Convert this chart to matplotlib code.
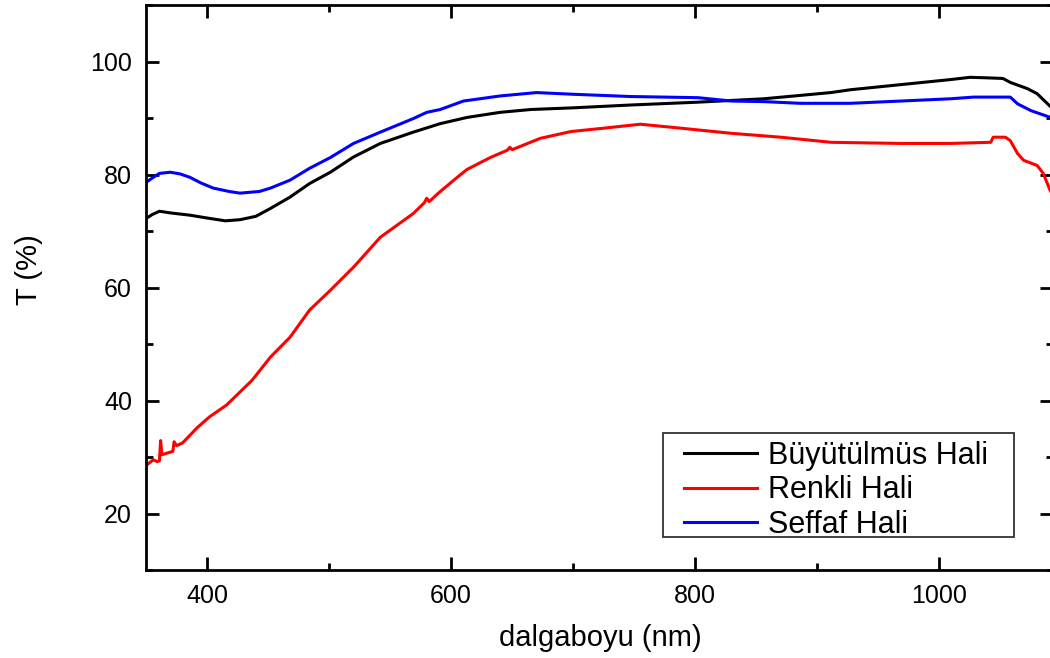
import matplotlib
matplotlib.use("Agg")
import matplotlib.pyplot as plt
from matplotlib.patches import Rectangle
from matplotlib.ticker import MultipleLocator

plt.rcParams['font.family'] = ['Liberation Sans', 'DejaVu Sans']

# Büyütülmüs Hali (black)
wl_black = [350, 355, 361, 370, 386, 400, 415, 427, 440, 452, 468, 484, 501, 520,
            542, 569, 591, 613, 640, 665, 700, 747, 802, 856, 911, 927, 968, 1009,
            1025, 1040, 1052, 1058, 1072, 1080, 1091, 1100]
t_black = [72.2, 72.9, 73.5, 73.2, 72.8, 72.3, 71.8, 72.0, 72.6, 74.0, 76.0, 78.4, 80.4, 83.1,
           85.5, 87.5, 89.0, 90.1, 91.0, 91.5, 91.8, 92.3, 92.8, 93.4, 94.5, 95.0, 95.9, 96.8,
           97.2, 97.1, 97.0, 96.3, 95.2, 94.3, 92.0, 91.2]

# Renkli Hali (red)
wl_red = [350, 356, 359, 361, 362, 363, 372, 373, 375, 380, 392, 402, 416, 427, 437, 452,
          468, 484, 501, 520, 542, 569, 578, 580, 582, 590, 605, 613, 632, 646, 648, 650,
          673, 698, 725, 755, 788, 829, 870, 911, 968, 1009, 1042, 1044, 1054, 1058, 1064,
          1069, 1080, 1085, 1091, 1100]
t_red = [28.5, 29.5, 29.2, 29.3, 32.9, 30.4, 31.0, 32.7, 32.0, 32.5, 35.2, 37.1, 39.2, 41.5, 43.6, 47.7,
         51.2, 56.0, 59.5, 63.6, 68.9, 73.1, 75.0, 75.8, 75.2, 76.8, 79.5, 80.9, 83.0, 84.3, 84.8, 84.4,
         86.4, 87.6, 88.2, 88.9, 88.2, 87.3, 86.6, 85.7, 85.5, 85.5, 85.7, 86.6, 86.6, 86.0, 83.7,
         82.5, 81.6, 80.2, 77.0, 75.5]

# Seffaf Hali (blue)
wl_blue = [350, 356, 361, 370, 378, 386, 395, 405, 418, 427, 443, 452, 468, 484, 501, 520,
           542, 569, 580, 591, 610, 640, 670, 700, 747, 802, 830, 856, 886, 927, 968, 1009,
           1028, 1058, 1064, 1075, 1091, 1100]
t_blue = [78.6, 79.5, 80.2, 80.4, 80.1, 79.5, 78.5, 77.6, 77.0, 76.7, 77.0, 77.6, 79.0, 81.1, 83.0, 85.5,
          87.5, 89.9, 91.0, 91.5, 93.0, 93.9, 94.5, 94.2, 93.8, 93.6, 93.0, 92.9, 92.6, 92.6, 93.0, 93.4,
          93.7, 93.7, 92.5, 91.3, 90.1, 89.5]

W, H = 1050, 658
AX_L, AX_R, AX_T, AX_B = 146, 1053, 5, 570   # axes box in pixels


def ax_x(px):
    return (px - AX_L) / (AX_R - AX_L)


def ax_y(py):
    return (AX_B - py) / (AX_B - AX_T)


fig = plt.figure(figsize=(W / 100, H / 100), dpi=100)
ax = fig.add_axes([AX_L / W, (H - AX_B) / H, (AX_R - AX_L) / W, (AX_B - AX_T) / H])

ax.plot(wl_black, t_black, color='black', lw=2.2, label='Büyütülmüs Hali')
ax.plot(wl_red, t_red, color='red', lw=2.2, label='Renkli Hali')
ax.plot(wl_blue, t_blue, color='blue', lw=2.2, label='Seffaf Hali')

ax.set_xlim(350, 1093)
ax.set_ylim(10, 110)
ax.xaxis.set_major_locator(MultipleLocator(200))
ax.xaxis.set_minor_locator(MultipleLocator(100))
ax.yaxis.set_major_locator(MultipleLocator(20))
ax.yaxis.set_minor_locator(MultipleLocator(10))
ax.set_yticks([20, 40, 60, 80, 100])

ax.tick_params(which='both', direction='in', top=True, right=True, width=2, labelsize=18, pad=10)
ax.tick_params(which='major', length=9.5)
ax.tick_params(which='minor', length=5)
for s in ax.spines.values():
    s.set_linewidth(2)

ax.set_xlabel('dalgaboyu (nm)', fontsize=21)
ax.xaxis.set_label_coords(ax_x(600), ax_y(624))
ax.set_ylabel('T (%)', fontsize=21)
ax.yaxis.set_label_coords(ax_x(43), ax_y(270))

# legend frame drawn separately so the padding matches the original
box = Rectangle((ax_x(663), ax_y(537)), ax_x(1014) - ax_x(663), ax_y(433) - ax_y(537),
                transform=ax.transAxes, facecolor='white', edgecolor='#333333', lw=1.3, zorder=4)
ax.add_patch(box)
leg = ax.legend(loc='upper left', bbox_to_anchor=(ax_x(684), ax_y(441)),
                borderaxespad=0, fontsize=22, frameon=False,
                handlelength=2.4, handletextpad=0.35, labelspacing=0.14, borderpad=0)
leg.set_zorder(5)

fig.savefig('out.png', dpi=100)
